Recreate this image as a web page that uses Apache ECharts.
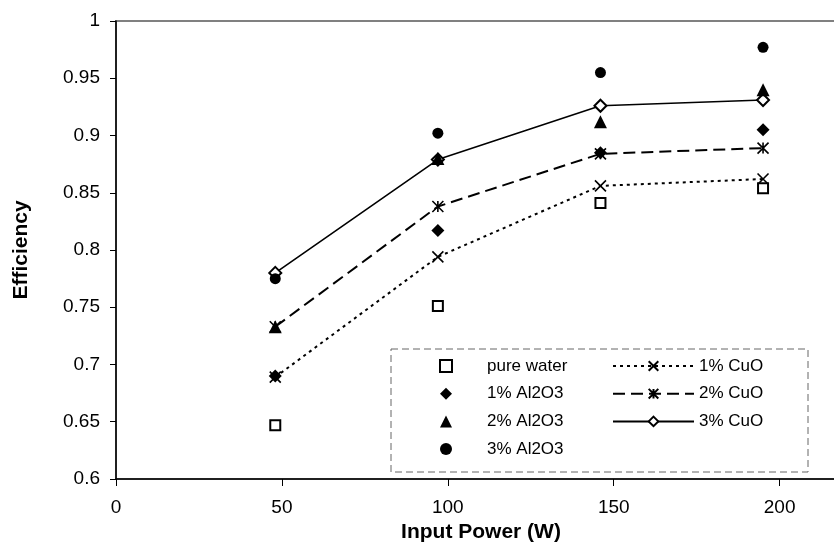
<!DOCTYPE html>
<html>
<head>
<meta charset="utf-8">
<script src="https://cdn.jsdelivr.net/npm/echarts@6/dist/echarts.min.js"></script>
<style>
  html, body { margin: 0; padding: 0; background: #fff; }
  #root { width: 834px; height: 558px; }
</style>
</head>
<body>
<div id="root"></div>
<script>
// input power (W) for each measurement column
const inputPower = [48, 97, 146, 195]

// efficiency
const pureWater = [0.647, 0.751, 0.841, 0.854]
const al2o3_1 = [0.690, 0.817, 0.885, 0.905]
const al2o3_2 = [0.733, 0.880, 0.912, 0.940]
const al2o3_3 = [0.775, 0.902, 0.955, 0.977]
const cuo_1 = [0.689, 0.794, 0.856, 0.862]
const cuo_2 = [0.733, 0.838, 0.884, 0.889]
const cuo_3 = [0.780, 0.879, 0.926, 0.931]

const xTicks = [0, 50, 100, 150, 200]

const FONT = '"Liberation Sans", Arial, sans-serif'
const crossPath = 'path://M0,0L10,10M10,0L0,10'
const starPath = 'path://M0,0L10,10M10,0L0,10M5,0L5,10'

const pairs = ys => inputPower.map((x, i) => [x, ys[i]])

const scatter = (name, ys, symbol, size, empty) => ({
  name,
  type: 'scatter',
  data: pairs(ys),
  symbol,
  symbolSize: size,
  z: 5,
  itemStyle: empty
    ? { color: '#000', borderColor: '#000', borderWidth: 1.5, opacity: 1 }
    : { color: '#000', borderWidth: 0, opacity: 1 }
})

const line = (name, ys, symbol, size, dash, width, symbolStyle) => ({
  name,
  type: 'line',
  data: pairs(ys),
  symbol,
  symbolSize: size,
  showSymbol: true,
  z: 3,
  lineStyle: { color: '#000', width, type: dash },
  itemStyle: symbolStyle
})

const myChart = echarts.init(document.getElementById('root'), null, { renderer: 'canvas' })

const legendText = { fontFamily: FONT, fontSize: 17, color: '#000', lineHeight: 18 }

const option = {
  animation: false,
  grid: {
    left: 116, top: 21, right: -12, bottom: 79,
    show: true, borderColor: '#808080', borderWidth: 2,
    containLabel: false, outerBoundsMode: 'none'
  },
  xAxis: {
    type: 'value',
    min: 0, max: 220, interval: 50,
    name: 'Input Power (W)',
    nameLocation: 'middle',
    nameGap: 43,
    nameTextStyle: { fontFamily: FONT, fontSize: 21, fontWeight: 'bold', color: '#000' },
    axisLine: { lineStyle: { color: '#000', width: 1.5 } },
    axisTick: { show: true, length: 7, lineStyle: { color: '#000' } },
    axisLabel: {
      margin: 19,
      fontFamily: FONT, fontSize: 19, color: '#000',
      formatter: v => xTicks.includes(v) ? String(v) : ''
    },
    splitLine: { show: false }
  },
  yAxis: {
    type: 'value',
    min: 0.6, max: 1, interval: 0.05,
    name: 'Efficiency',
    nameLocation: 'middle',
    nameGap: 84,
    nameTextStyle: { fontFamily: FONT, fontSize: 21, fontWeight: 'bold', color: '#000' },
    axisLine: { show: true, lineStyle: { color: '#000', width: 1.5 } },
    axisTick: { show: true, length: 6, lineStyle: { color: '#000' } },
    axisLabel: {
      margin: 16,
      fontFamily: FONT, fontSize: 19, color: '#000',
      formatter: v => String(+v.toFixed(2))
    },
    splitLine: { show: false }
  },
  legend: [
    {
      orient: 'vertical',
      left: 434, top: 352,
      itemWidth: 12, itemHeight: 12, itemGap: 9.7,
      textStyle: Object.assign({ padding: [0, 0, 0, 30] }, legendText),
      data: ['pure water', '1% Al2O3', '2% Al2O3', '3% Al2O3']
    },
    {
      orient: 'vertical',
      left: 607, top: 352,
      itemWidth: 81, itemHeight: 12, itemGap: 9.7,
      textStyle: legendText,
      data: ['1% CuO', '2% CuO', '3% CuO']
    }
  ],
  graphic: [
    {
      type: 'rect',
      shape: { x: 391, y: 349, width: 417, height: 123 },
      style: { fill: 'none', stroke: '#666', lineWidth: 1, lineDash: [7, 4] },
      z: 1
    }
  ],
  series: [
    line('1% CuO', cuo_1, crossPath, 11, [3, 4], 2, { color: '#000', borderColor: '#000', borderWidth: 1.6 }),
    line('2% CuO', cuo_2, starPath, 11, [12, 6], 2, { color: '#000', borderColor: '#000', borderWidth: 1.6 }),
    line('3% CuO', cuo_3, 'emptyDiamond', 12, 'solid', 1.6, { color: '#000', borderColor: '#000', borderWidth: 1.5 }),
    scatter('pure water', pureWater, 'emptyRect', 10, true),
    scatter('1% Al2O3', al2o3_1, 'diamond', 13, false),
    scatter('2% Al2O3', al2o3_2, 'triangle', 13, false),
    scatter('3% Al2O3', al2o3_3, 'circle', 11, false)
  ]
}
myChart.setOption(option)
</script>
</body>
</html>
